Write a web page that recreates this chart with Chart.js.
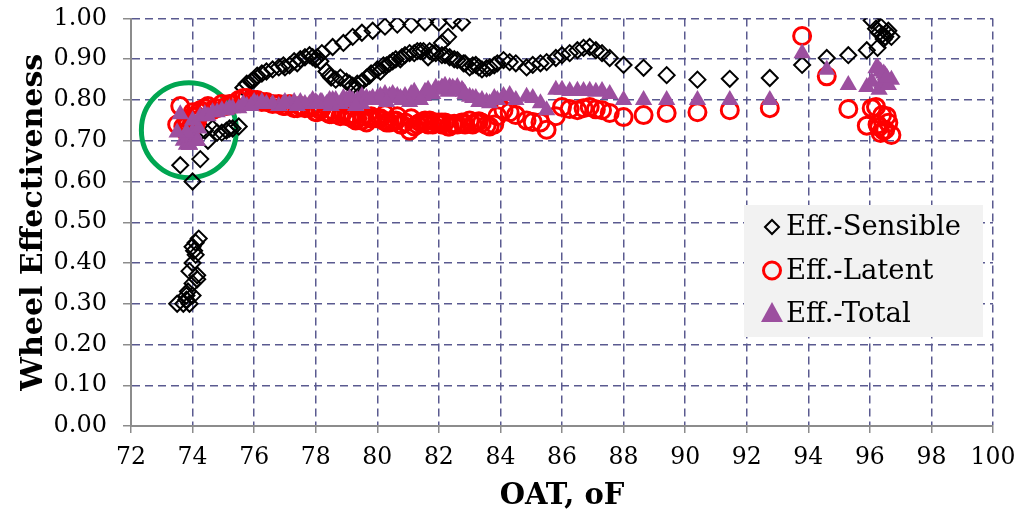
<!DOCTYPE html>
<html>
<head>
<meta charset="utf-8">
<script src="https://cdn.jsdelivr.net/npm/chart.js@4.4.1/dist/chart.umd.min.js"></script>
<style>
    html, body { margin: 0; padding: 0; background: #ffffff; }
    #wrap { width: 1018px; height: 512px; }
</style>
</head>
<body>
<div id="wrap"><canvas id="wheelChart" width="1018" height="512"></canvas></div>
<script>
// Datos: OAT (oF) y efectividad de la rueda
const oatValues = [
    73.70, 73.80, 73.90, 74.00, 73.85, 74.00, 74.15, 73.90, 74.00, 74.10, 74.00, 74.10, 74.20, 74.05, 74.15, 73.80,
    73.60, 73.50, 74.00, 74.25, 74.50, 74.80, 75.10, 75.50,
    75.76, 76.10, 76.40, 76.80, 77.15, 77.50, 77.80, 78.15, 78.35, 78.50, 78.80, 79.00, 79.20, 79.50, 79.80,
    80.00, 80.20, 80.40, 80.60, 80.80, 81.05, 81.30, 81.50,
    77.90, 78.20, 78.55, 78.90, 79.20, 79.50, 79.85, 80.25, 80.65, 81.10, 81.55, 82.00, 82.45, 82.75, 82.30, 82.10,
    81.70, 81.90, 82.10, 82.35, 82.60, 82.80, 83.00, 83.20, 83.40, 83.65, 83.90, 84.10, 84.30, 84.50, 84.85, 85.05,
    85.30, 85.50, 85.80, 86.00, 86.25, 86.50, 86.70, 86.90, 87.10, 87.30, 87.55, 88.00, 88.65, 89.40, 90.40, 91.45,
    92.75, 93.80, 94.60, 95.30, 95.90, 96.06, 96.20, 96.30, 96.40, 96.50, 96.60, 96.70, 96.35, 96.25, 96.45, 96.55,
    75.30, 76.00, 76.60, 77.00, 77.30, 77.65, 78.00, 78.65, 79.10, 79.35, 79.65, 80.10, 80.50, 80.90, 81.20, 81.80,
    82.20, 82.50, 83.10, 83.55,
    74.40, 74.65, 74.95, 75.20, 75.65, 75.90, 76.25, 76.95, 77.40, 78.05, 78.45, 79.30, 79.75, 80.30, 80.75, 81.40,
    81.65, 82.85, 83.30, 83.80
];
const sensibleEff = [
    0.30, 0.31, 0.30, 0.32, 0.33, 0.35, 0.37, 0.38, 0.40, 0.42, 0.44, 0.45, 0.46, 0.43, 0.36, 0.32,
    0.64, 0.30, 0.60, 0.655, 0.70, 0.72, 0.725, 0.735,
    0.84, 0.86, 0.87, 0.88, 0.885, 0.90, 0.91, 0.895, 0.87, 0.855, 0.855, 0.845, 0.835, 0.845, 0.865,
    0.875, 0.885, 0.89, 0.90, 0.905, 0.915, 0.92, 0.92,
    0.905, 0.915, 0.93, 0.94, 0.955, 0.965, 0.97, 0.98, 0.985, 0.985, 0.99, 0.99, 0.995, 0.99, 0.955, 0.94,
    0.92, 0.915, 0.91, 0.905, 0.898, 0.89, 0.88, 0.886, 0.875, 0.88, 0.89, 0.898, 0.893, 0.89, 0.88, 0.886,
    0.89, 0.893, 0.903, 0.91, 0.915, 0.922, 0.928, 0.93, 0.922, 0.915, 0.903, 0.886, 0.879, 0.861, 0.85, 0.852,
    0.854, 0.886, 0.903, 0.91, 0.922, 0.995, 0.975, 0.965, 0.96, 0.955, 0.97, 0.955, 0.98, 0.928, 0.95, 0.965,
    0.73, 0.85, 0.875, 0.88, 0.895, 0.905, 0.90, 0.85, 0.84, 0.84, 0.855, 0.87, 0.895, 0.91, 0.915, 0.915,
    0.91, 0.90, 0.885, 0.878,
    0.725, 0.73, 0.72, 0.73, 0.83, 0.845, 0.865, 0.885, 0.89, 0.905, 0.86, 0.83, 0.86, 0.885, 0.90, 0.92,
    0.905, 0.89, 0.88, 0.885
];
const latentEff = [
    0.735, 0.745, 0.730, 0.750, 0.740, 0.760, 0.750, 0.730, 0.740, 0.760, 0.750, 0.740, 0.770, 0.750, 0.760, 0.720,
    0.785, 0.740, 0.770, 0.775, 0.785, 0.780, 0.785, 0.800,
    0.805, 0.800, 0.795, 0.790, 0.790, 0.785, 0.780, 0.775, 0.770, 0.765, 0.760, 0.760, 0.755, 0.750, 0.760,
    0.755, 0.750, 0.745, 0.750, 0.740, 0.725, 0.740, 0.745,
    0.785, 0.780, 0.775, 0.770, 0.765, 0.760, 0.755, 0.765, 0.760, 0.755, 0.750, 0.745, 0.740, 0.745, 0.735, 0.740,
    0.750, 0.745, 0.745, 0.735, 0.740, 0.744, 0.750, 0.745, 0.744, 0.735, 0.760, 0.775, 0.770, 0.763, 0.750, 0.746,
    0.745, 0.727, 0.760, 0.783, 0.778, 0.775, 0.780, 0.783, 0.777, 0.775, 0.768, 0.758, 0.763, 0.768, 0.770, 0.775,
    0.780, 0.957, 0.858, 0.778, 0.737, 0.780, 0.783, 0.734, 0.763, 0.727, 0.744, 0.714, 0.719, 0.740, 0.725, 0.760,
    0.790, 0.800, 0.790, 0.785, 0.780, 0.780, 0.770, 0.765, 0.760, 0.755, 0.745, 0.755, 0.750, 0.745, 0.735, 0.740,
    0.745, 0.742, 0.740, 0.738,
    0.780, 0.775, 0.790, 0.790, 0.805, 0.800, 0.795, 0.785, 0.780, 0.770, 0.765, 0.750, 0.755, 0.745, 0.740, 0.745,
    0.740, 0.740, 0.748, 0.740
];
const totalEff = [
    0.700, 0.690, 0.690, 0.700, 0.710, 0.720, 0.700, 0.690, 0.710, 0.700, 0.720, 0.710, 0.730, 0.700, 0.700, 0.720,
    0.765, 0.720, 0.750, 0.760, 0.760, 0.770, 0.775, 0.780,
    0.785, 0.790, 0.790, 0.785, 0.790, 0.795, 0.790, 0.795, 0.790, 0.785, 0.790, 0.800, 0.795, 0.790, 0.800,
    0.805, 0.800, 0.810, 0.805, 0.800, 0.795, 0.805, 0.810,
    0.800, 0.795, 0.800, 0.805, 0.800, 0.810, 0.805, 0.815, 0.810, 0.815, 0.820, 0.825, 0.830, 0.825, 0.820, 0.830,
    0.815, 0.830, 0.830, 0.832, 0.832, 0.820, 0.808, 0.805, 0.800, 0.792, 0.800, 0.810, 0.812, 0.800, 0.808, 0.805,
    0.792, 0.775, 0.825, 0.825, 0.822, 0.823, 0.822, 0.823, 0.820, 0.822, 0.815, 0.800, 0.800, 0.800, 0.800, 0.800,
    0.800, 0.915, 0.874, 0.837, 0.832, 0.845, 0.878, 0.825, 0.842, 0.860, 0.837, 0.850, 0.870, 0.880, 0.865, 0.855,
    0.780, 0.795, 0.790, 0.795, 0.795, 0.790, 0.795, 0.800, 0.805, 0.800, 0.805, 0.810, 0.815, 0.810, 0.820, 0.815,
    0.835, 0.825, 0.805, 0.795,
    0.765, 0.770, 0.775, 0.780, 0.790, 0.785, 0.795, 0.790, 0.785, 0.790, 0.800, 0.785, 0.800, 0.795, 0.805, 0.800,
    0.825, 0.815, 0.795, 0.805
];
// Marca verde alrededor de los puntos a 74 oF
const markOat = [73.88];
const markEff = [0.726];

const seriesNames = ['Eff.-Sensible', 'Eff.-Latent', 'Eff.-Total'];
const xTicks = [72, 74, 76, 78, 80, 82, 84, 86, 88, 90, 92, 94, 96, 98, 100];

const FONT = "'DejaVu Serif', 'Liberation Serif', serif";
const GRID_COLOR = '#5a5a90';
const AXIS_COLOR = '#8c8c8c';
const PURPLE = '#9c4f9f';

function toPoints(xs, ys) {
    return xs.map((x, i) => ({ x: x, y: ys[i] }));
}

// Dibujar marcadores de la leyenda
function drawMarker(ctx, kind, x, y) {
    ctx.save();
    ctx.beginPath();
    if (kind === 0) {
        ctx.moveTo(x - 7, y); ctx.lineTo(x, y - 7); ctx.lineTo(x + 7, y); ctx.lineTo(x, y + 7);
        ctx.closePath();
        ctx.lineWidth = 2;
        ctx.strokeStyle = '#000000';
        ctx.stroke();
    } else if (kind === 1) {
        ctx.arc(x, y, 8.5, 0, Math.PI * 2);
        ctx.lineWidth = 3;
        ctx.strokeStyle = '#ff0000';
        ctx.stroke();
    } else {
        ctx.moveTo(x, y - 12); ctx.lineTo(x + 11, y + 8); ctx.lineTo(x - 11, y + 8);
        ctx.closePath();
        ctx.fillStyle = PURPLE;
        ctx.fill();
    }
    ctx.restore();
}

const legendBox = {
    id: 'legendBox',
    afterDraw(chart) {
        const ctx = chart.ctx;
        ctx.save();
        ctx.fillStyle = '#f2f2f2';
        ctx.fillRect(744, 205, 239, 132);
        ctx.font = '27.5px ' + FONT;
        ctx.fillStyle = '#000000';
        ctx.textBaseline = 'middle';
        ctx.textAlign = 'left';
        seriesNames.forEach((name, i) => {
            const cy = 227 + i * 43.5;
            drawMarker(ctx, i, 772, cy);
            ctx.fillText(name, 786, cy + 1);
        });
        ctx.restore();
    }
};

const gridOpts = {
    color: GRID_COLOR,
    lineWidth: 1.5,
    tickColor: AXIS_COLOR,
    tickBorderDash: [],
    tickWidth: 1.5
};

const ctx = document.getElementById('wheelChart').getContext('2d');
new Chart(ctx, {
    type: 'scatter',
    data: {
        datasets: [
            {
                label: seriesNames[0],
                data: toPoints(oatValues, sensibleEff),
                pointStyle: 'rectRot',
                pointRadius: 8,
                pointBorderWidth: 2,
                borderColor: '#000000',
                backgroundColor: 'rgba(0,0,0,0)',
                order: 3
            },
            {
                label: seriesNames[1],
                data: toPoints(oatValues, latentEff),
                pointStyle: 'circle',
                pointRadius: 8.5,
                pointBorderWidth: 3,
                borderColor: '#ff0000',
                backgroundColor: 'rgba(0,0,0,0)',
                order: 2
            },
            {
                label: seriesNames[2],
                data: toPoints(oatValues, totalEff),
                pointStyle: 'triangle',
                pointRadius: 10,
                pointBorderWidth: 0,
                borderColor: PURPLE,
                backgroundColor: PURPLE,
                order: 1
            },
            {
                label: 'mark',
                data: toPoints(markOat, markEff),
                pointStyle: 'circle',
                pointRadius: 47.5,
                pointBorderWidth: 5,
                borderColor: '#00a651',
                backgroundColor: 'rgba(0,0,0,0)',
                order: 4
            }
        ]
    },
    options: {
        responsive: false,
        animation: false,
        layout: { autoPadding: false, padding: { left: 0, right: 25, top: 18.5, bottom: 0 } },
        plugins: {
            legend: { display: false },
            tooltip: { enabled: false }
        },
        scales: {
            x: {
                type: 'linear',
                min: 72,
                max: 100,
                afterFit: function(scale) {
                    scale.height = 86;
                    scale.paddingRight = 25;
                    scale.paddingLeft = 0;
                },
                afterBuildTicks: function(scale) {
                    scale.ticks = xTicks.map(v => ({ value: v }));
                },
                ticks: {
                    color: '#000000',
                    font: { family: FONT, size: 23.5 },
                    padding: 11,
                    maxRotation: 0
                },
                grid: Object.assign({ tickLength: 7 }, gridOpts),
                border: { display: true, color: AXIS_COLOR, width: 2, dash: [8, 5] },
                title: {
                    display: true,
                    text: 'OAT, oF',
                    color: '#000000',
                    font: { family: FONT, size: 29, weight: 'bold' },
                    padding: { top: 0, bottom: -2 }
                }
            },
            y: {
                type: 'linear',
                min: 0,
                max: 1,
                afterFit: function(scale) {
                    scale.width = 131;
                    scale.paddingTop = 0;
                    scale.paddingBottom = 0;
                },
                ticks: {
                    stepSize: 0.1,
                    color: '#000000',
                    font: { family: FONT, size: 24 },
                    padding: 16,
                    callback: function(value) { return value.toFixed(2); }
                },
                grid: Object.assign({ tickLength: 8 }, gridOpts),
                border: { display: true, color: AXIS_COLOR, width: 2, dash: [8, 5] },
                title: {
                    display: true,
                    text: 'Wheel Effectiveness',
                    color: '#000000',
                    font: { family: FONT, size: 30, weight: 'bold' },
                    padding: { top: 16, bottom: 0 }
                }
            }
        }
    },
    plugins: [legendBox]
});
</script>
</body>
</html>
